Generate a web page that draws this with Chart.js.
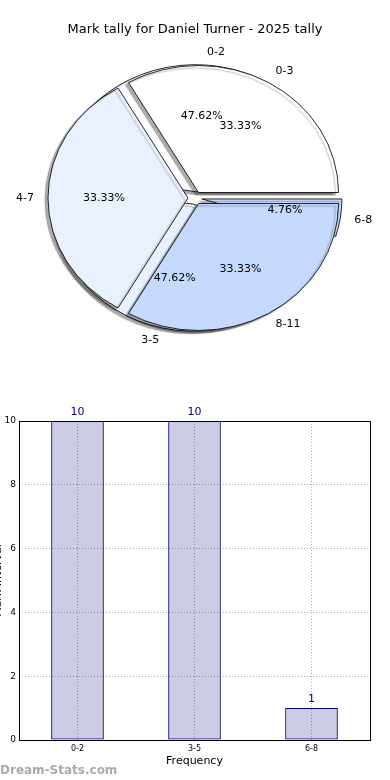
<!DOCTYPE html>
<html>
<head>
<meta charset="utf-8">
<script src="https://cdn.jsdelivr.net/npm/chart.js@4.4.1/dist/chart.umd.min.js"></script>
<style>
  body { margin: 0; background: #fff; width: 390px; height: 780px; overflow: hidden; position: relative; }
  #pieChart { position: absolute; left: 0; top: 0; }
  #barChart { position: absolute; left: -12px; top: 380px; }
  .watermark { position: absolute; left: 0; top: 763px; font: bold 12px "DejaVu Sans", sans-serif; color: #aaaaaa; }
</style>
</head>
<body>
<canvas id="pieChart" width="390" height="380"></canvas>
<canvas id="barChart" width="402" height="400"></canvas>
<div class="watermark">Dream-Stats.com</div>
<script>
const tallyBands = ['0-2', '3-5', '6-8'];
const tallyCounts = [10, 10, 1];
const markBands = ['0-3', '4-7', '8-11'];
const markCounts = [7, 7, 7];
const sliceColors = ['#ffffff', '#eaf1fe', '#c5d9fd'];
const yTicks = [0, 2, 4, 6, 8, 10];

Chart.defaults.font.family = '"DejaVu Sans", sans-serif';
Chart.defaults.color = '#000';

// pie sits in a stretched ellipse like the original (axes not equal aspect)
const PIE = { cx: 195, cy: 198, rx: 140, ry: 127, explode: 0.05 };

// chart.js goes clockwise, the original goes counter clockwise from 3 o'clock
const rev = (a) => a.slice().reverse();

const ellipsePie = {
    id: 'ellipsePie',
    afterDatasetsUpdate(chart) {
        chart.data.datasets.forEach((ds, di) => {
            chart.getDatasetMeta(di).data.forEach(arc => {
                const mid = (arc.startAngle + arc.endAngle) / 2;
                arc.x = PIE.cx + PIE.explode * PIE.ry * Math.cos(mid);
                arc.y = PIE.cy + PIE.explode * PIE.ry * Math.sin(mid);
                arc.innerRadius = 0;
                arc.outerRadius = PIE.ry;
            });
        });
    },
    beforeDatasetsDraw(chart) {
        const ctx = chart.ctx;
        ctx.save();
        ctx.translate(PIE.cx, 0);
        ctx.scale(PIE.rx / PIE.ry, 1);
        ctx.translate(-PIE.cx, 0);
        ctx.shadowColor = 'rgba(0,0,0,0.32)';
        ctx.shadowOffsetX = -3;
        ctx.shadowOffsetY = 2.5;
        ctx.shadowBlur = 1.2;
    },
    afterDatasetsDraw(chart) {
        const ctx = chart.ctx;
        ctx.restore();
        ctx.save();
        ctx.font = '11px "DejaVu Sans"';
        ctx.fillStyle = '#000';
        ctx.textBaseline = 'middle';
        chart.data.datasets.forEach((ds, di) => {
            const total = ds.data.reduce((a, b) => a + b, 0);
            chart.getDatasetMeta(di).data.forEach((arc, i) => {
                const mid = (arc.startAngle + arc.endAngle) / 2;
                const c = Math.cos(mid), s = Math.sin(mid);
                const ox = PIE.cx + PIE.explode * PIE.rx * c;
                const oy = PIE.cy + PIE.explode * PIE.ry * s;
                ctx.textAlign = c > 0 ? 'left' : 'right';
                ctx.fillText(ds.sliceLabels[i], ox + 1.1 * PIE.rx * c, oy + 1.1 * PIE.ry * s);
                ctx.textAlign = 'center';
                ctx.fillText((ds.data[i] / total * 100).toFixed(2) + '%', ox + 0.6 * PIE.rx * c, oy + 0.6 * PIE.ry * s);
            });
        });
        ctx.restore();
    }
};

new Chart(document.getElementById('pieChart'), {
    type: 'pie',
    data: {
        labels: rev(markBands),
        datasets: [
            {
                data: rev(markCounts),
                sliceLabels: rev(markBands),
                backgroundColor: rev(sliceColors),
                borderColor: '#000',
                borderWidth: 0.8,
                clip: false
            },
            {
                data: rev(tallyCounts),
                sliceLabels: rev(tallyBands),
                backgroundColor: rev(sliceColors),
                borderColor: '#000',
                borderWidth: 0.8,
                clip: false
            }
        ]
    },
    options: {
        responsive: false,
        animation: false,
        rotation: 90,
        plugins: {
            legend: { display: false },
            tooltip: { enabled: false },
            title: {
                display: true,
                text: 'Mark tally for Daniel Turner - 2025 tally',
                font: { size: 13, weight: 'normal' },
                color: '#000',
                padding: { top: 22, bottom: 0 }
            }
        }
    },
    plugins: [ellipsePie]
});

const valueLabels = {
    id: 'valueLabels',
    afterDatasetsDraw(chart) {
        const ctx = chart.ctx;
        ctx.save();
        ctx.font = '11px "DejaVu Sans"';
        ctx.fillStyle = '#000080';
        ctx.textAlign = 'center';
        ctx.textBaseline = 'middle';
        chart.getDatasetMeta(0).data.forEach((bar, i) => {
            ctx.fillText(String(tallyCounts[i]), bar.x, bar.y - 9);
        });
        ctx.restore();
    }
};

const frameBox = {
    id: 'frameBox',
    afterDraw(chart) {
        const { left, top, right, bottom } = chart.chartArea;
        const ctx = chart.ctx;
        ctx.save();
        ctx.strokeStyle = '#000';
        ctx.lineWidth = 1;
        ctx.strokeRect(Math.round(left) + 0.5, Math.round(top) + 0.5, Math.round(right - left), Math.round(bottom - top));
        ctx.restore();
    }
};

new Chart(document.getElementById('barChart'), {
    type: 'bar',
    data: {
        labels: tallyBands,
        datasets: [{
            data: tallyCounts,
            backgroundColor: 'rgba(0,0,128,0.2)',
            borderColor: '#000080',
            borderWidth: 1,
            borderSkipped: false,
            barPercentage: 0.45,
            categoryPercentage: 1
        }]
    },
    options: {
        responsive: false,
        animation: false,
        layout: { padding: { top: 41, right: 20, left: 0, bottom: 0 } },
        plugins: { legend: { display: false }, tooltip: { enabled: false } },
        scales: {
            x: {
                offset: true,
                grid: { offset: false, color: '#b0b0b0', drawTicks: false },
                border: { display: false, dash: [1, 2] },
                ticks: { font: { size: 8 }, color: '#000', padding: 4 },
                title: { display: true, text: 'Frequency', font: { size: 11 }, color: '#000', padding: { top: 0, bottom: 12 } },
                afterFit: (s) => { s.height = 40; }
            },
            y: {
                min: 0,
                max: 10,
                afterBuildTicks: (s) => { s.ticks = yTicks.map(v => ({ value: v })); },
                grid: { color: '#b0b0b0', drawTicks: false },
                border: { display: false, dash: [1, 2] },
                ticks: { font: { size: 9 }, color: '#000', padding: 3 },
                title: { display: true, text: 'Mark Interval', font: { size: 11 }, color: '#000' },
                afterFit: (s) => { s.width = 31; }
            }
        }
    },
    plugins: [valueLabels, frameBox]
});
</script>
</body>
</html>
